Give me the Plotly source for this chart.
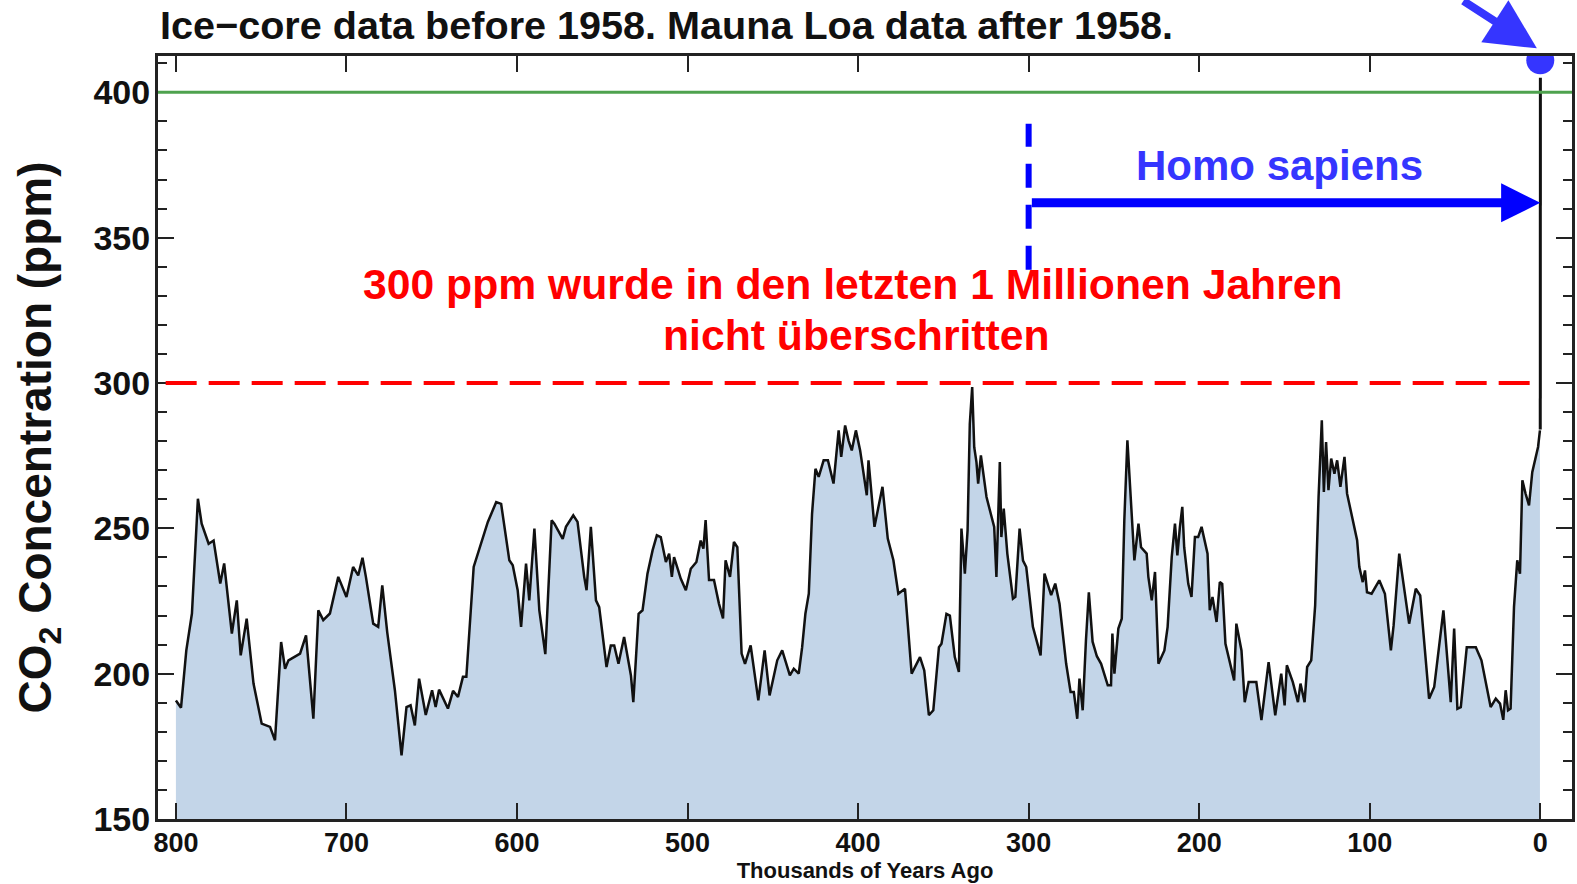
import plotly.graph_objects as go

# ---------------- data ----------------
kyr_ago = [
    800.0, 797.0, 793.9, 790.6, 787.1, 784.9, 780.8, 777.9, 774.0, 771.7,
    767.2, 764.3, 762.0, 758.5, 754.5, 749.7, 744.8, 741.9, 738.3, 736.0,
    734.0, 727.2, 723.7, 719.4, 716.5, 713.6, 709.7, 704.8, 700.0, 696.1,
    693.1, 690.6, 688.6, 684.3, 681.4, 679.0, 676.1, 671.6, 667.7, 664.8,
    662.4, 659.9, 657.4, 653.5, 649.8, 647.7, 645.7, 640.5, 637.5, 634.6,
    631.7, 629.7, 625.4, 621.0, 617.1, 612.2, 609.3, 604.5, 602.5, 599.6,
    597.6, 594.7, 592.8, 589.8, 586.9, 583.4, 579.7, 578.1, 573.2, 571.3,
    567.0, 564.5, 560.6, 559.2, 556.7, 553.7, 551.8, 547.5, 545.0, 543.0,
    540.5, 537.2, 535.1, 533.2, 531.8, 528.7, 526.4, 523.5, 520.5, 518.0,
    515.7, 512.7, 510.8, 509.2, 507.9, 504.0, 501.0, 498.1, 494.8, 492.3,
    490.7, 489.4, 487.4, 484.5, 481.6, 479.2, 477.7, 475.1, 472.8, 470.8,
    468.3, 466.3, 463.0, 458.5, 454.8, 451.9, 447.4, 444.5, 440.0, 437.7,
    434.8, 432.8, 430.9, 428.9, 427.0, 425.0, 423.1, 420.2, 417.7, 414.4,
    411.4, 409.9, 407.6, 405.6, 403.7, 401.3, 398.8, 394.9, 393.9, 390.4,
    385.7, 382.6, 379.3, 376.4, 372.5, 368.6, 363.7, 361.2, 358.5, 355.9,
    352.6, 351.1, 348.2, 346.2, 343.3, 340.9, 339.4, 337.4, 335.8, 334.5,
    333.1, 331.9, 330.6, 329.6, 328.0, 324.7, 322.2, 320.2, 318.9, 316.9,
    316.0, 314.6, 312.5, 309.2, 307.8, 305.3, 303.3, 301.4, 297.5, 293.0,
    290.7, 286.8, 284.4, 281.9, 278.0, 275.4, 273.5, 271.5, 270.2, 268.3,
    266.4, 264.7, 262.5, 260.0, 257.5, 253.6, 251.7, 250.9, 249.7, 247.4,
    245.4, 243.9, 242.1, 240.5, 238.0, 235.6, 234.1, 230.8, 229.8, 227.8,
    225.9, 223.9, 220.4, 218.5, 216.1, 214.2, 212.8, 211.3, 209.9, 208.8,
    206.4, 204.5, 202.5, 200.6, 198.6, 195.1, 193.8, 192.2, 189.8, 187.9,
    186.5, 184.6, 179.5, 178.2, 175.2, 173.3, 171.0, 166.5, 163.5, 159.3,
    155.4, 151.9, 149.9, 148.6, 145.1, 142.1, 140.6, 138.2, 136.7, 134.3,
    132.0, 130.0, 128.1, 126.9, 125.6, 124.2, 122.6, 120.7, 119.1, 117.2,
    115.8, 114.8, 113.3, 110.9, 107.4, 106.1, 104.1, 102.8, 101.6, 98.9,
    94.4, 91.1, 87.6, 86.0, 82.7, 76.9, 73.0, 70.4, 65.2, 62.2,
    56.8, 52.5, 50.5, 48.6, 46.6, 43.1, 37.8, 34.5, 29.1, 26.1,
    23.6, 21.7, 20.3, 18.9, 17.4, 15.4, 13.5, 11.9, 10.5, 8.6,
    6.6, 4.7, 2.7, 1.3, 0.2,
]
co2_ppm = [
    190.8, 188.3, 208.0, 220.7, 260.2, 251.6, 244.7, 245.8, 231.0, 237.9,
    213.8, 225.2, 206.3, 218.9, 196.6, 182.8, 181.7, 177.1, 210.9, 201.7,
    204.6, 206.9, 213.2, 184.5, 221.8, 218.4, 220.7, 233.3, 226.4, 236.7,
    233.8, 239.9, 233.3, 217.2, 216.1, 230.4, 214.3, 194.3, 171.9, 188.5,
    189.1, 182.2, 198.3, 185.8, 194.3, 188.5, 194.5, 188.0, 194.1, 192.0,
    198.9, 198.9, 236.7, 244.7, 252.2, 259.0, 258.4, 239.0, 237.3, 228.7,
    216.1, 237.9, 225.2, 249.9, 221.8, 206.7, 252.8, 251.6, 246.4, 250.5,
    254.5, 252.2, 233.3, 228.7, 250.5, 225.2, 222.9, 202.3, 209.7, 209.7,
    203.4, 212.6, 205.7, 199.4, 190.2, 220.6, 221.8, 234.4, 242.4, 247.6,
    247.0, 238.4, 241.3, 233.3, 240.1, 232.7, 228.7, 236.1, 238.4, 245.8,
    243.0, 252.8, 232.2, 232.2, 224.1, 219.0, 239.0, 233.3, 245.3, 243.5,
    206.9, 203.4, 209.7, 190.8, 208.0, 192.5, 204.6, 208.0, 199.4, 201.7,
    200.0, 209.1, 220.6, 227.5, 255.0, 270.5, 267.7, 273.4, 273.4, 265.4,
    283.7, 274.6, 285.4, 280.2, 276.8, 283.7, 276.8, 261.4, 273.4, 250.5,
    264.3, 246.5, 239.0, 227.5, 229.2, 200.0, 205.7, 201.1, 185.7, 187.4,
    209.1, 210.3, 220.6, 220.0, 205.7, 200.6, 249.9, 234.4, 249.3, 286.0,
    298.6, 277.9, 272.8, 265.4, 275.1, 260.8, 255.0, 250.5, 233.3, 272.8,
    247.0, 256.8, 241.3, 225.8, 226.4, 249.9, 238.9, 236.7, 216.1, 206.3,
    234.4, 227.0, 231.0, 224.1, 203.4, 193.7, 193.7, 184.5, 198.3, 187.4,
    211.4, 228.0, 211.0, 206.0, 203.4, 196.0, 196.0, 213.8, 200.0, 215.5,
    218.9, 252.8, 280.3, 263.1, 239.0, 251.6, 243.5, 241.3, 233.3, 225.2,
    235.0, 203.4, 208.0, 216.1, 240.1, 251.6, 240.7, 250.5, 257.4, 243.5,
    230.9, 226.4, 247.0, 247.0, 250.5, 241.3, 221.8, 226.4, 217.8, 231.5,
    230.9, 210.3, 197.7, 217.2, 208.0, 190.2, 197.1, 197.1, 184.0, 204.0,
    185.7, 200.0, 189.1, 202.9, 197.1, 190.2, 196.6, 190.2, 202.3, 204.6,
    223.5, 260.8, 287.2, 262.5, 279.7, 263.1, 274.0, 268.8, 273.4, 264.3,
    270.0, 274.6, 262.0, 255.1, 245.9, 236.7, 231.5, 235.5, 228.0, 227.5,
    232.1, 227.5, 208.0, 216.6, 241.3, 217.2, 229.2, 226.9, 191.4, 195.4,
    221.8, 190.2, 215.5, 187.9, 188.5, 209.1, 209.1, 204.6, 188.5, 191.4,
    189.7, 184.1, 194.3, 187.4, 188.0, 223.0, 239.0, 234.4, 266.5, 261.9,
    257.9, 269.3, 274.6, 278.0, 283.7,
]
# Mauna Loa (after 1958), thousands of years before 1950
modern_kyr = [0.0, -0.008, -0.066]
modern_ppm = [284.0, 315.0, 405.0]

x_ticks = [800, 700, 600, 500, 400, 300, 200, 100, 0]
y_ticks = [150, 200, 250, 300, 350, 400]

threshold_ppm = 300          # red dashed line
reference_ppm = 400          # green line
homo_sapiens_kyr = 300       # start of Homo sapiens
homo_arrow_ppm = 362
today_kyr = 0
today_marker_ppm = 411

title_text = "Ice\u2212core data before 1958. Mauna Loa data after 1958."
red_line1 = "300 ppm wurde in den letzten 1 Millionen Jahren"
red_line2 = "nicht überschritten"
homo_text = "Homo sapiens"

# ---------------- styling ----------------
FONT = "Liberation Sans, Arial, Helvetica, sans-serif"
AXIS_COL = "#222222"
FILL = "#c3d5e8"
BLUE = "#0000ff"
BLUE2 = "#3535ff"
RED = "#ff0000"
GREEN = "#4ea24e"

fig = go.Figure()

fig.add_trace(go.Scatter(
    x=kyr_ago, y=co2_ppm, mode="lines",
    line=dict(color="#111111", width=2.5),
    fill="tozeroy", fillcolor=FILL, hoverinfo="skip", showlegend=False,
))
fig.add_trace(go.Scatter(
    x=modern_kyr, y=modern_ppm, mode="lines",
    line=dict(color="#111111", width=3), showlegend=False,
))

shapes = [
    # 400 ppm green reference line
    dict(type="line", xref="paper", yref="y", x0=0, x1=1,
         y0=reference_ppm, y1=reference_ppm,
         line=dict(color=GREEN, width=3), layer="above"),
    # 300 ppm red dashed line
    dict(type="line", xref="x", yref="y", x0=806, x1=today_kyr,
         y0=threshold_ppm, y1=threshold_ppm,
         line=dict(color=RED, width=4, dash="31px,12px"), layer="above"),
    # blue dashed vertical line at start of Homo sapiens
    dict(type="line", xref="x", yref="y", x0=homo_sapiens_kyr, x1=homo_sapiens_kyr,
         y0=339, y1=389.2,
         line=dict(color=BLUE, width=6, dash="24px,17px"), layer="above"),
    # blue dot marking today
    dict(type="circle", xref="x", yref="y",
         xsizemode="pixel", ysizemode="pixel",
         xanchor=today_kyr, yanchor=today_marker_ppm,
         x0=-14, x1=14, y0=-14, y1=14,
         fillcolor=BLUE2, line=dict(width=0), layer="above"),
]

annotations = [
    dict(text=title_text, xref="paper", yref="paper", x=0, y=1.040,
         xanchor="left", yanchor="middle", showarrow=False,
         font=dict(family=FONT, size=39.6, color="#111111", weight="bold")),
    dict(text=red_line1, xref="x", yref="y", x=403.0, y=334.0,
         xanchor="center", yanchor="middle", showarrow=False,
         font=dict(family=FONT, size=42.7, color=RED, weight="bold")),
    dict(text=red_line2, xref="x", yref="y", x=400.7, y=316.6,
         xanchor="center", yanchor="middle", showarrow=False,
         font=dict(family=FONT, size=42.7, color=RED, weight="bold")),
    dict(text=homo_text, xref="x", yref="y", x=153.2, y=374.8,
         xanchor="center", yanchor="middle", showarrow=False,
         font=dict(family=FONT, size=42, color=BLUE2, weight="bold")),
    # horizontal Homo sapiens arrow
    dict(text="", xref="x", yref="y", x=today_kyr, y=homo_arrow_ppm,
         axref="x", ayref="y", ax=homo_sapiens_kyr - 1, ay=homo_arrow_ppm,
         showarrow=True, arrowhead=2, arrowsize=0.87, arrowwidth=9,
         arrowcolor=BLUE),
    # arrow pointing at the blue dot
    dict(text="", xref="x", yref="paper", x=2.0, y=1.010,
         ax=-75, ay=-68, showarrow=True, arrowhead=2, arrowsize=1.25,
         arrowwidth=8, arrowcolor=BLUE2),
]

fig.update_layout(
    width=1577, height=884,
    margin=dict(l=158, r=2, t=56, b=65, pad=0),
    paper_bgcolor="white", plot_bgcolor="white",
    showlegend=False,
    shapes=shapes, annotations=annotations,
    font=dict(family=FONT, color="#111111"),
)

fig.update_xaxes(
    range=[810.5, -18.6], tickvals=x_ticks, ticktext=[str(v) for v in x_ticks],
    ticks="inside", ticklen=16, tickwidth=2, tickcolor=AXIS_COL,
    showline=True, linewidth=3, linecolor=AXIS_COL, mirror="ticks",
    showgrid=False, zeroline=False,
    tickfont=dict(family=FONT, size=27, color="#111111", weight="bold"),
    ticklabelstandoff=-2,
    title=dict(text="Thousands of Years Ago", standoff=2,
               font=dict(family=FONT, size=22, color="#111111", weight="bold")),
)
fig.update_yaxes(
    range=[150, 412.5], tickvals=y_ticks, ticktext=[str(v) for v in y_ticks],
    ticks="inside", ticklen=16, tickwidth=2, tickcolor=AXIS_COL,
    minor=dict(tickvals=list(range(150, 420, 10)), ticks="inside", ticklen=9,
               tickwidth=2, tickcolor=AXIS_COL, showgrid=False),
    showline=True, linewidth=3, linecolor=AXIS_COL, mirror="ticks",
    showgrid=False, zeroline=False,
    tickfont=dict(family=FONT, size=34, color="#111111", weight="bold"),
    ticklabelstandoff=-2,
    title=dict(text="CO<sub>2</sub> Concentration (ppm)", standoff=28,
               font=dict(family=FONT, size=46, color="#111111", weight="bold")),
)

fig.write_html("out.html", config={"displayModeBar": False},
               post_script="document.body.style.margin='0';document.body.style.overflow='hidden';")
